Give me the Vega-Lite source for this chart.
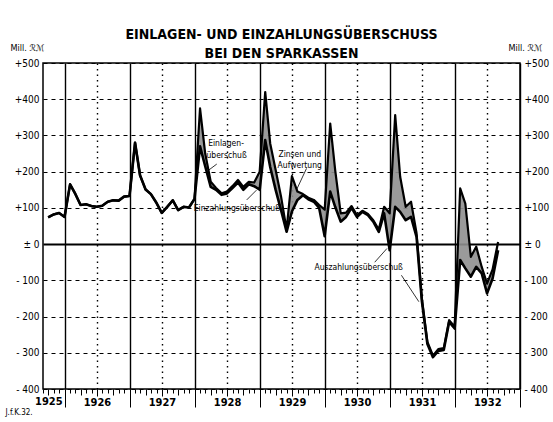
{
  "$schema": "https://vega.github.io/schema/vega-lite/v6.json",
  "width": 477,
  "height": 326,
  "autosize": {"type": "none"},
  "padding": {"left": 43, "top": 63, "right": 33, "bottom": 33},
  "background": "white",
  "title": {
    "text": ["EINLAGEN- UND EINZAHLUNGSÜBERSCHUSS", "BEI DEN SPARKASSEN"],
    "font": "DejaVu Sans Condensed, Liberation Sans, sans-serif",
    "fontSize": 14,
    "fontWeight": "bold",
    "lineHeight": 19,
    "anchor": "middle",
    "color": "black",
    "offset": -18
  },
  "datasets": {
    "main": [
      {"date": "1925-09-30", "a": 74, "b": 74},
      {"date": "1925-10-31", "a": 82, "b": 82},
      {"date": "1925-11-30", "a": 86, "b": 86},
      {"date": "1925-12-31", "a": 75, "b": 75},
      {"date": "1926-01-31", "a": 165, "b": 165},
      {"date": "1926-02-28", "a": 140, "b": 140},
      {"date": "1926-03-31", "a": 108, "b": 108},
      {"date": "1926-04-30", "a": 110, "b": 110},
      {"date": "1926-05-31", "a": 105, "b": 105},
      {"date": "1926-06-30", "a": 103, "b": 103},
      {"date": "1926-07-31", "a": 106, "b": 106},
      {"date": "1926-08-31", "a": 117, "b": 117},
      {"date": "1926-09-30", "a": 121, "b": 121},
      {"date": "1926-10-31", "a": 120, "b": 120},
      {"date": "1926-11-30", "a": 131, "b": 131},
      {"date": "1926-12-31", "a": 133, "b": 133},
      {"date": "1927-01-31", "a": 280, "b": 280},
      {"date": "1927-02-28", "a": 190, "b": 190},
      {"date": "1927-03-31", "a": 151, "b": 151},
      {"date": "1927-04-30", "a": 138, "b": 138},
      {"date": "1927-05-31", "a": 114, "b": 114},
      {"date": "1927-06-30", "a": 86, "b": 86},
      {"date": "1927-07-31", "a": 103, "b": 103},
      {"date": "1927-08-31", "a": 121, "b": 121},
      {"date": "1927-09-30", "a": 94, "b": 94},
      {"date": "1927-10-31", "a": 103, "b": 103},
      {"date": "1927-11-30", "a": 101, "b": 101},
      {"date": "1927-12-31", "a": 125, "b": 125},
      {"date": "1928-01-31", "a": 375, "b": 270},
      {"date": "1928-02-29", "a": 250, "b": 215},
      {"date": "1928-03-31", "a": 172, "b": 158},
      {"date": "1928-04-30", "a": 155, "b": 150},
      {"date": "1928-05-31", "a": 140, "b": 136},
      {"date": "1928-06-30", "a": 145, "b": 140},
      {"date": "1928-07-31", "a": 160, "b": 155},
      {"date": "1928-08-31", "a": 177, "b": 170},
      {"date": "1928-09-30", "a": 158, "b": 150},
      {"date": "1928-10-31", "a": 172, "b": 165},
      {"date": "1928-11-30", "a": 170, "b": 160},
      {"date": "1928-12-31", "a": 200, "b": 150},
      {"date": "1929-01-31", "a": 420, "b": 287},
      {"date": "1929-02-28", "a": 278, "b": 213},
      {"date": "1929-03-31", "a": 204, "b": 149},
      {"date": "1929-04-30", "a": 131, "b": 94},
      {"date": "1929-05-31", "a": 40, "b": 34},
      {"date": "1929-06-30", "a": 188, "b": 90},
      {"date": "1929-07-31", "a": 145, "b": 122},
      {"date": "1929-08-31", "a": 138, "b": 135},
      {"date": "1929-09-30", "a": 128, "b": 124},
      {"date": "1929-10-31", "a": 122, "b": 117},
      {"date": "1929-11-30", "a": 108, "b": 100},
      {"date": "1929-12-31", "a": 95, "b": 22},
      {"date": "1930-01-31", "a": 333, "b": 145},
      {"date": "1930-02-28", "a": 204, "b": 103},
      {"date": "1930-03-31", "a": 85, "b": 62},
      {"date": "1930-04-30", "a": 87, "b": 75},
      {"date": "1930-05-31", "a": 105, "b": 100},
      {"date": "1930-06-30", "a": 80, "b": 75},
      {"date": "1930-07-31", "a": 92, "b": 89},
      {"date": "1930-08-31", "a": 83, "b": 80},
      {"date": "1930-09-30", "a": 66, "b": 62},
      {"date": "1930-10-31", "a": 40, "b": 34},
      {"date": "1930-11-30", "a": 103, "b": 85},
      {"date": "1930-12-31", "a": 85, "b": -17},
      {"date": "1931-01-31", "a": 356, "b": 103},
      {"date": "1931-02-28", "a": 186, "b": 89},
      {"date": "1931-03-31", "a": 103, "b": 66},
      {"date": "1931-04-30", "a": 117, "b": 75},
      {"date": "1931-05-31", "a": 30, "b": 20},
      {"date": "1931-06-30", "a": -150, "b": -158},
      {"date": "1931-07-31", "a": -270, "b": -276},
      {"date": "1931-08-31", "a": -308, "b": -312},
      {"date": "1931-09-30", "a": -290, "b": -295},
      {"date": "1931-10-31", "a": -287, "b": -292},
      {"date": "1931-11-30", "a": -210, "b": -215},
      {"date": "1931-12-31", "a": -228, "b": -233},
      {"date": "1932-01-31", "a": 154, "b": -44},
      {"date": "1932-02-29", "a": 112, "b": -67},
      {"date": "1932-03-31", "a": -35, "b": -90},
      {"date": "1932-04-30", "a": -7, "b": -63},
      {"date": "1932-05-31", "a": -63, "b": -81},
      {"date": "1932-06-30", "a": -109, "b": -136},
      {"date": "1932-07-31", "a": -70, "b": -95},
      {"date": "1932-08-31", "a": 6, "b": -17}
    ],
    "notes": [
      {"date": "1928-06-25", "v": 279, "label": "Einlagen-"},
      {"date": "1928-06-28", "v": 246, "label": "überschuß"},
      {"date": "1928-08-25", "v": 100, "label": "Einzahlungsüberschuß"},
      {"date": "1929-08-13", "v": 249, "label": "Zinsen und"},
      {"date": "1929-08-13", "v": 218, "label": "Aufwertung"},
      {"date": "1930-07-10", "v": -64, "label": "Auszahlungsüberschuß"}
    ],
    "pointers": [
      {"d1": "1928-05-04", "v1": 221, "d2": "1928-03-19", "v2": 204},
      {"d1": "1928-10-19", "v1": 122, "d2": "1928-12-13", "v2": 149},
      {"d1": "1929-09-20", "v1": 209, "d2": "1929-07-25", "v2": 149},
      {"d1": "1930-10-08", "v1": -50, "d2": "1930-12-16", "v2": -12},
      {"d1": "1931-03-07", "v1": -86, "d2": "1931-06-13", "v2": -159}
    ]
  },
  "layer": [
    {
      "data": {"name": "main"},
      "mark": {"type": "area", "color": "#8f8f8f", "opacity": 0.9},
      "encoding": {
        "x": {
          "field": "date", "type": "temporal",
          "scale": {"type": "utc", "domain": [{"year": 1925, "month": 9, "date": 1, "utc": true}, {"year": 1933, "month": 1, "date": 1, "utc": true}]},
          "axis": {
            "orient": "bottom",
            "tickCount": {"interval": "month", "step": 1},
            "labelExpr": "(utcmonth(datum.value) == 6 || (utcyear(datum.value) == 1925 && utcmonth(datum.value) == 9)) ? utcFormat(datum.value, '%Y') : ''",
            "labelOverlap": false,
            "labelFlush": false,
            "labelFont": "DejaVu Sans Condensed, Liberation Sans, sans-serif",
            "labelFontSize": 11,
            "labelFontWeight": "bold",
            "labelColor": "black",
            "labelPadding": 0,
            "domain": false,
            "grid": true,
            "gridColor": "black",
            "gridOpacity": {"condition": {"test": "utcmonth(datum.value) == 0 || utcmonth(datum.value) == 6", "value": 1}, "value": 0},
            "gridDash": {"condition": {"test": "utcmonth(datum.value) == 6", "value": [1.5, 4]}, "value": []},
            "gridWidth": 1.4,
            "ticks": true,
            "tickColor": "black",
            "tickWidth": 1,
            "tickSize": {"condition": [
              {"test": "utcmonth(datum.value) == 0", "value": 18},
              {"test": "utcmonth(datum.value) == 6", "value": 7},
              {"test": "utcmonth(datum.value) == 3 || utcmonth(datum.value) == 9", "value": 6}
            ], "value": 4},
            "title": "J.f.K.32.",
            "titleFont": "DejaVu Sans Condensed, sans-serif",
            "titleFontSize": 8,
            "titleFontWeight": "normal",
            "titleColor": "black",
            "titleAnchor": "start",
            "titleAlign": "left",
            "titleBaseline": "middle",
            "titleX": -38,
            "titleY": 23
          }
        },
        "y": {
          "field": "a", "type": "quantitative",
          "scale": {"domain": [-400, 500], "nice": false, "zero": false},
          "axis": {
            "orient": "left",
            "values": [-400, -300, -200, -100, 0, 100, 200, 300, 400, 500],
            "labelExpr": "datum.value > 0 ? '+' + datum.value : (datum.value == 0 ? '± 0' : '- ' + abs(datum.value))",
            "labelFont": "DejaVu Sans Condensed, Liberation Sans, sans-serif",
            "labelFontSize": 10,
            "labelColor": "black",
            "labelPadding": 4,
            "ticks": false,
            "domain": false,
            "grid": true,
            "gridColor": "black",
            "gridDash": {"condition": {"test": "datum.value == 0", "value": []}, "value": [4, 4]},
            "gridWidth": {"condition": {"test": "datum.value == 0", "value": 2}, "value": 1},
            "title": "Mill. ℛℳ",
            "titleFont": "DejaVu Sans Condensed, DejaVu Sans, sans-serif",
            "titleFontSize": 9,
            "titleFontWeight": "normal",
            "titleColor": "black",
            "titleAngle": 0,
            "titleAlign": "left",
            "titleBaseline": "alphabetic",
            "titleX": -33,
            "titleY": -13
          }
        },
        "y2": {"field": "b"}
      }
    },
    {
      "data": {"name": "main"},
      "mark": {"type": "line", "color": "black", "strokeWidth": 2.2, "strokeJoin": "round"},
      "encoding": {
        "x": {"field": "date", "type": "temporal"},
        "y": {
          "field": "a", "type": "quantitative",
          "axis": {
            "orient": "right",
            "values": [-400, -300, -200, -100, 0, 100, 200, 300, 400, 500],
            "labelExpr": "datum.value > 0 ? '+' + datum.value : (datum.value == 0 ? '± 0' : '- ' + abs(datum.value))",
            "labelFont": "DejaVu Sans Condensed, Liberation Sans, sans-serif",
            "labelFontSize": 10,
            "labelColor": "black",
            "labelPadding": 4,
            "ticks": false,
            "domain": false,
            "grid": false,
            "title": "Mill. ℛℳ",
            "titleFont": "DejaVu Sans Condensed, DejaVu Sans, sans-serif",
            "titleFontSize": 9,
            "titleFontWeight": "normal",
            "titleColor": "black",
            "titleAngle": 0,
            "titleAlign": "left",
            "titleBaseline": "alphabetic",
            "titleX": -12,
            "titleY": -13
          }
        }
      }
    },
    {
      "data": {"name": "main"},
      "mark": {"type": "line", "color": "black", "strokeWidth": 2.6, "strokeJoin": "round"},
      "encoding": {
        "x": {"field": "date", "type": "temporal"},
        "y": {"field": "b", "type": "quantitative", "axis": null}
      }
    },
    {
      "data": {"name": "pointers"},
      "mark": {"type": "rule", "color": "black", "strokeWidth": 0.8},
      "encoding": {
        "x": {"field": "d1", "type": "temporal"},
        "x2": {"field": "d2"},
        "y": {"field": "v1", "type": "quantitative", "axis": null},
        "y2": {"field": "v2"}
      }
    },
    {
      "data": {"name": "notes"},
      "mark": {"type": "text", "color": "black", "font": "DejaVu Sans Condensed, Liberation Sans, sans-serif", "fontSize": 8.5, "align": "center", "baseline": "middle"},
      "encoding": {
        "x": {"field": "date", "type": "temporal"},
        "y": {"field": "v", "type": "quantitative", "axis": null},
        "text": {"field": "label"}
      }
    }
  ],
  "resolve": {"axis": {"y": "independent"}},
  "config": {
    "view": {"stroke": "black", "strokeWidth": 1.5},
    "font": "DejaVu Sans Condensed, Liberation Sans, sans-serif"
  }
}
